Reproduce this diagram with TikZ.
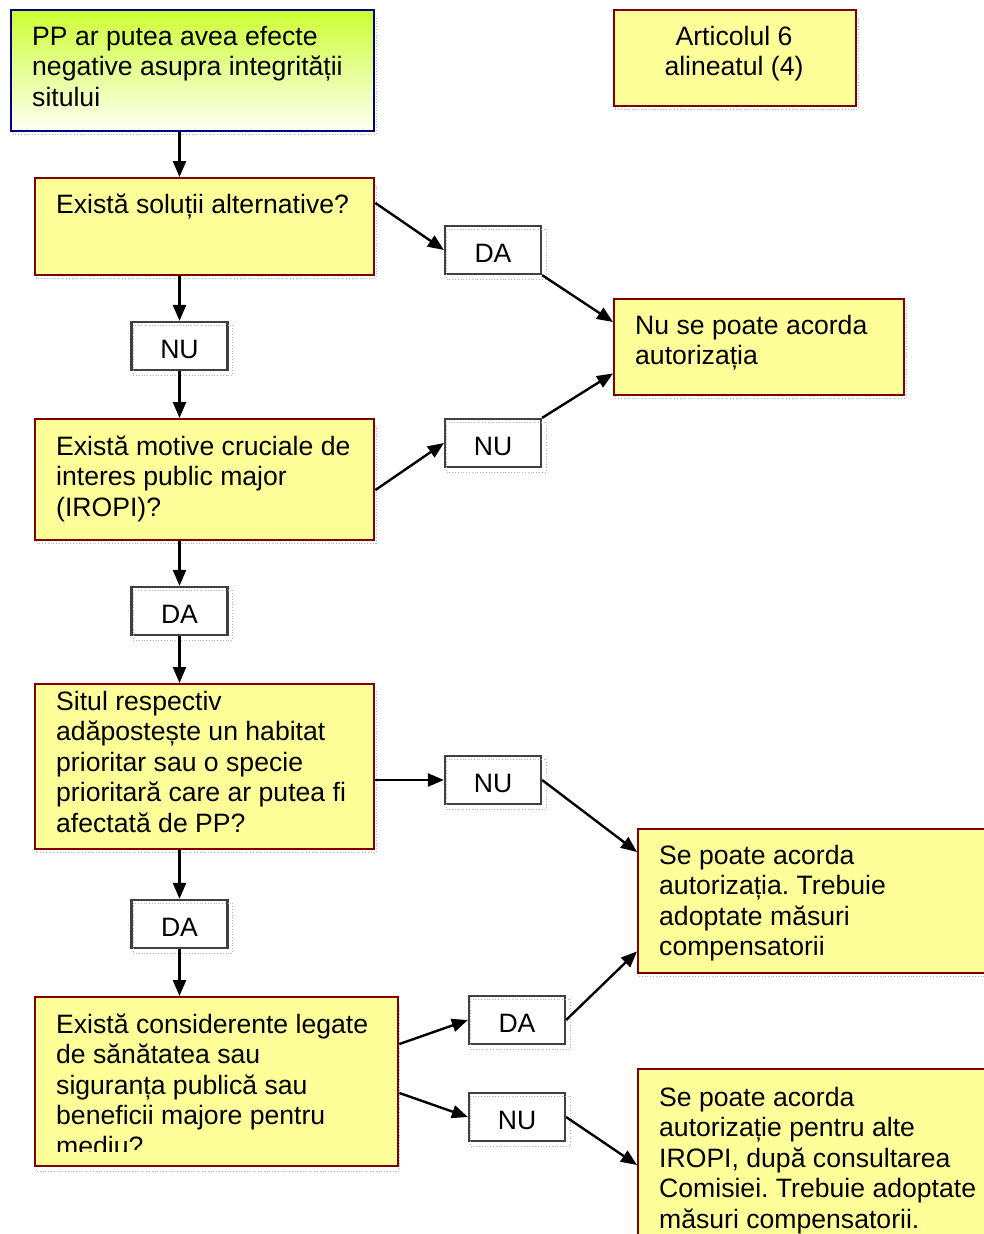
\documentclass[tikz,border=0pt]{standalone}
\usepackage{fontspec}
\setmainfont{Liberation Sans}
\usetikzlibrary{arrows.meta,calc}
\definecolor{boxfill}{HTML}{FFFF99}
\definecolor{boxline}{HTML}{800000}
\definecolor{navyline}{HTML}{000080}
\definecolor{limetop}{HTML}{CCFF33}
\definecolor{limebottom}{HTML}{FFFFF4}
\definecolor{tagline}{HTML}{404040}
\definecolor{guide}{HTML}{A8BCC8}
\newcommand\bodyfont{\fontsize{26.6}{30.5}\selectfont\frenchspacing}

\begin{document}
\begin{tikzpicture}[x=1pt,y=-1pt,
  box/.style={draw=boxline,line width=2.4pt,fill=boxfill,rectangle,anchor=north west,inner sep=0pt},
  tag/.style={draw=tagline,line width=2.2pt,fill=white,rectangle,minimum width=96pt,minimum height=48pt,inner sep=0pt,
              font=\bodyfont,text height=24pt,text depth=0pt},
  txt/.style={anchor=north west,inner sep=0pt,align=left,font=\bodyfont},
  arr/.style={line width=2.4pt,-{Triangle[length=16pt,width=13pt]}},
  guideline/.style={draw=guide,line width=0.8pt,dotted}]

\useasboundingbox (0,0) rectangle (984,1234);
\fill[white] (0,0) rectangle (984,1234);

% faint text-frame guides behind the main boxes
\draw[guideline] (12,17) rectangle (376,134);
\draw[guideline] (615,17) rectangle (858,109);
\draw[guideline] (36,185) rectangle (376,278);
\draw[guideline] (615,306) rectangle (906,398);
\draw[guideline] (36,426) rectangle (376,543);
\draw[guideline] (36,691) rectangle (376,852);
\draw[guideline] (639,836) rectangle (1040,976);
\draw[guideline] (36,1004) rectangle (399,1171);

% main boxes
\node[draw=navyline,line width=2.4pt,top color=limetop,bottom color=limebottom,rectangle,anchor=north west,inner sep=0pt,
      minimum width=363pt,minimum height=121pt] (start) at (10,9) {};
\node[box,minimum width=242pt,minimum height=96pt] (art) at (613,9) {};
\node[box,minimum width=339pt,minimum height=97pt] (alt) at (34,177) {};
\node[box,minimum width=290pt,minimum height=96pt] (refuse) at (613,298) {};
\node[box,minimum width=339pt,minimum height=121pt] (iropi) at (34,418) {};
\node[box,minimum width=339pt,minimum height=165pt] (prior) at (34,683) {};
\node[box,minimum width=400pt,minimum height=144pt] (grant) at (637,828) {};
\node[box,minimum width=363pt,minimum height=169pt] (health) at (34,996) {};
\node[box,minimum width=400pt,minimum height=200pt] (other) at (637,1068) {};

% box texts (first baseline = node top + 21.35)
\node[txt] (tstart) at (32,23.7) {\strut PP ar putea avea efecte\\negative asupra integrității\\sitului};
\node[txt,anchor=north,align=center] (tart) at (734,23.7) {\strut Articolul 6\\alineatul (4)};
\node[txt] (talt) at (56,191.7) {\strut Există soluții alternative?};
\node[txt] (trefuse) at (635,312.7) {\strut Nu se poate acorda\\autorizația};
\node[txt] (tiropi) at (56,433.7) {\strut Există motive cruciale de\\interes public major\\(IROPI)?};
\node[txt] (tprior) at (56,688.7) {\strut Situl respectiv\\adăpostește un habitat\\prioritar sau o specie\\prioritară care ar putea fi\\afectată de PP?};
\node[txt] (tgrant) at (659,842.7) {\strut Se poate acorda\\autorizația. Trebuie\\adoptate măsuri\\compensatorii};
% the last line of this text runs past the inner margin and is cut off there
\begin{scope}
  \clip (34,996) rectangle (397,1151);
  \node[txt] (thealth) at (56,1011.7) {\strut Există considerente legate\\de sănătatea sau\\siguranța publică sau\\beneficii majore pentru\\mediu?};
\end{scope}
\node[txt] (tother) at (659,1084.7) {\strut Se poate acorda\\autorizație pentru alte\\IROPI, după consultarea\\Comisiei. Trebuie adoptate\\măsuri compensatorii.};

% answer tags
\node[tag] (da1) at (493,250) {DA};
\node[tag] (nu1) at (179.5,346) {NU};
\node[tag] (nu2) at (493,443) {NU};
\node[tag] (da2) at (179.5,611) {DA};
\node[tag] (nu3) at (493,780) {NU};
\node[tag] (da3) at (179.5,924) {DA};
\node[tag] (da4) at (517,1020) {DA};
\node[tag] (nu4) at (517,1117) {NU};

% faint guides inside the tags
\foreach \t in {da1,nu1,nu2,da2,nu3,da3,da4,nu4}{
  \draw[guideline] ([shift={(2.5,4)}]\t.north west) rectangle ([shift={(4,4)}]\t.south east);
}

% main vertical flow
\draw[arr] (start.south -| nu1) -- (alt.north -| nu1);
\draw[arr] (alt.south -| nu1) -- (nu1.north);
\draw[arr] (nu1.south) -- (iropi.north -| nu1);
\draw[arr] (iropi.south -| da2) -- (da2.north);
\draw[arr] (da2.south) -- (prior.north -| da2);
\draw[arr] (prior.south -| da3) -- (da3.north);
\draw[arr] (da3.south) -- (health.north -| da3);

% branches to the right
\draw[arr] ([yshift=-26pt]alt.north east) -- (da1.west);
\draw[arr] (da1.south east) -- ([yshift=-24pt]refuse.north west);
\draw[arr] ([yshift=-72pt]iropi.north east) -- (nu2.west);
\draw[arr] (nu2.north east) -- ([yshift=23pt]refuse.south west);
\draw[arr] (prior.east |- nu3.west) -- (nu3.west);
\draw[arr] (nu3.east) -- ([yshift=-24pt]grant.north west);
\draw[arr] ([yshift=-48pt]health.north east) -- (da4.west);
\draw[arr] (da4.east) -- ([yshift=23pt]grant.south west);
\draw[arr] ([yshift=-97pt]health.north east) -- (nu4.west);
\draw[arr] (nu4.east) -- ([yshift=-97pt]other.north west);
\end{tikzpicture}
\end{document}
